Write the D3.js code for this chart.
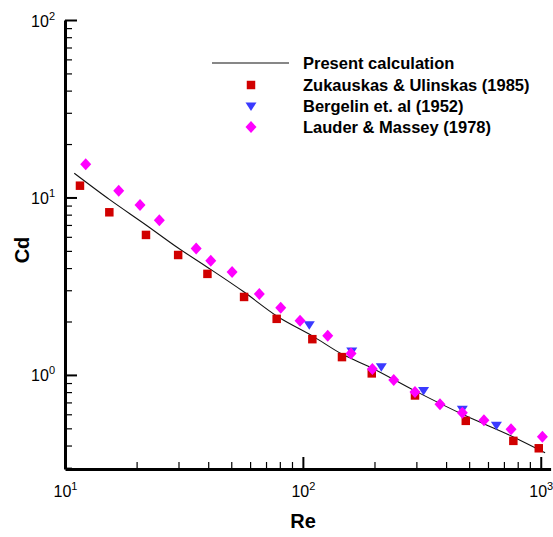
<!DOCTYPE html>
<html>
<head>
<meta charset="utf-8">
<script src="https://cdn.jsdelivr.net/npm/d3@7"></script>
<style>
  body { margin: 0; background: #fff; }
  text { font-family: "Liberation Sans", Arial, sans-serif; }
</style>
</head>
<body>
<div class="chart"></div>
<script>
// present calculation (line)
var calcRe = [10.94, 15.36, 21.9, 29.9, 39.5, 56.6, 77.6, 109.6, 146, 194.8, 296, 484, 767, 1043];
var calcCd = [13.69, 9.75, 7.0, 5.19, 4.06, 2.93, 2.15, 1.66, 1.31, 1.095, 0.813, 0.588, 0.447, 0.364];

// Zukauskas & Ulinskas (1985)
var zukRe = [11.56, 15.36, 21.9, 29.9, 39.7, 56.6, 77.6, 109.6, 146, 194.8, 296, 484, 767, 981];
var zukCd = [11.65, 8.25, 6.15, 4.74, 3.71, 2.75, 2.07, 1.59, 1.26, 1.02, 0.766, 0.551, 0.425, 0.386];

// Bergelin et. al (1952)
var berRe = [106.4, 160.5, 213.7, 321.6, 468, 651];
var berCd = [1.92, 1.365, 1.11, 0.818, 0.641, 0.521];

// Lauder & Massey (1978)
var lauRe = [12.22, 16.82, 20.67, 24.92, 35.6, 41.0, 50.4, 65.6, 80.7, 97.3, 127.2, 159.4, 195.9, 241, 296, 377, 468, 577, 750, 1016];
var lauCd = [15.38, 10.92, 9.07, 7.44, 5.15, 4.40, 3.80, 2.86, 2.39, 2.02, 1.66, 1.32, 1.08, 0.937, 0.802, 0.684, 0.613, 0.556, 0.494, 0.449];

var xMajor = [10, 100, 1000];
var yMajor = [1, 10, 100];
var legendLabels = ["Present calculation", "Zukauskas & Ulinskas (1985)", "Bergelin et. al (1952)", "Lauder & Massey (1978)"];

document.addEventListener("DOMContentLoaded", runD3)
function runD3(){
  var width = 553,
      height = 537;

  const svg = d3.select(".chart").append("svg")
    .attr("width", width)
    .attr("height", height)

  var x = d3.scaleLog().domain([10, 1100]).range([65, 550.6]),
      y = d3.scaleLog().domain([0.295, 100]).range([469, 20])

  var xMinor = [], yMinor = []
  xMajor.forEach(function(m){ for (var k = 2; k < 10; k++) if (m * k < 1100) xMinor.push(m * k) })
  ;[0.1, 1, 10].forEach(function(m){ for (var k = 2; k < 10; k++) if (m * k > 0.295 && m * k < 100) yMinor.push(m * k) })

  // minor ticks
  svg.append("g")
    .attr("transform", "translate(0,469)")
    .call(d3.axisBottom(x).tickValues(xMinor).tickSizeInner(-7).tickSizeOuter(0).tickFormat(""))
    .call(g => g.select(".domain").remove())
    .selectAll("line").attr("stroke-width", 1.2)
  svg.append("g")
    .attr("transform", "translate(65,0)")
    .call(d3.axisLeft(y).tickValues(yMinor).tickSizeInner(-7).tickSizeOuter(0).tickFormat(""))
    .call(g => g.select(".domain").remove())
    .selectAll("line").attr("stroke-width", 1.2)

  // major ticks + labels
  var xAxis = svg.append("g")
    .attr("transform", "translate(0,469)")
    .call(d3.axisBottom(x).tickValues(xMajor).tickSizeInner(-12).tickSizeOuter(0).tickFormat(""))
  var yAxis = svg.append("g")
    .attr("transform", "translate(65,0)")
    .call(d3.axisLeft(y).tickValues(yMajor).tickSizeInner(-12).tickSizeOuter(0).tickFormat(""))

  ;[xAxis, yAxis].forEach(function(g){
    g.select(".domain").attr("stroke-width", 3)
    g.selectAll(".tick line").attr("stroke-width", 2)
  })

  xAxis.selectAll(".tick").append("text")
    .attr("y", 28)
    .attr("text-anchor", "middle")
    .attr("fill", "#000")
    .call(powerLabel)
  yAxis.selectAll(".tick").append("text")
    .attr("x", -10)
    .attr("y", 6)
    .attr("text-anchor", "end")
    .attr("fill", "#000")
    .call(powerLabel)

  function powerLabel(sel){
    sel.attr("font-size", 16)
    sel.append("tspan").text("10")
    sel.append("tspan").attr("dy", -7).attr("font-size", 11).text(d => Math.round(Math.log10(d)))
  }

  // axis titles
  svg.append("text")
    .attr("x", 303).attr("y", 528)
    .attr("text-anchor", "middle")
    .attr("font-size", 20).attr("font-weight", "bold")
    .text("Re")
  svg.append("text")
    .attr("transform", "translate(29,250) rotate(-90)")
    .attr("text-anchor", "middle")
    .attr("font-size", 20).attr("font-weight", "bold")
    .text("Cd")

  // line
  var line = d3.line()
    .x((d, i) => x(calcRe[i]))
    .y(d => y(d))
    .curve(d3.curveMonotoneX)
  svg.append("path")
    .datum(calcCd)
    .attr("d", line)
    .attr("fill", "none")
    .attr("stroke", "#111")
    .attr("stroke-width", 1.1)

  var square = d3.symbol().type(d3.symbolSquare).size(72),
      tri = "M-5.5,-3.5L5.5,-3.5L0,5Z",
      diamond = "M0,-6L5.5,0L0,6L-5.5,0Z"

  svg.append("g").selectAll("path")
    .data(zukCd).enter().append("path")
    .attr("d", square)
    .attr("transform", (d, i) => `translate(${x(zukRe[i])},${y(d)})`)
    .attr("fill", "#d10000")
  svg.append("g").selectAll("path")
    .data(berCd).enter().append("path")
    .attr("d", tri)
    .attr("transform", (d, i) => `translate(${x(berRe[i])},${y(d)})`)
    .attr("fill", "#3a3aff")
  svg.append("g").selectAll("path")
    .data(lauCd).enter().append("path")
    .attr("d", diamond)
    .attr("transform", (d, i) => `translate(${x(lauRe[i])},${y(d)})`)
    .attr("fill", "#ff00ff")

  // legend
  var legend = svg.append("g")
  var rowY = [63, 85, 106, 127]
  legend.append("line")
    .attr("x1", 212).attr("x2", 289)
    .attr("y1", rowY[0]).attr("y2", rowY[0])
    .attr("stroke", "#111").attr("stroke-width", 1.1)
  legend.append("path").attr("d", square)
    .attr("transform", `translate(251,${rowY[1]})`).attr("fill", "#d10000")
  legend.append("path").attr("d", tri)
    .attr("transform", `translate(251,${rowY[2]})`).attr("fill", "#3a3aff")
  legend.append("path").attr("d", diamond)
    .attr("transform", `translate(251,${rowY[3]})`).attr("fill", "#ff00ff")
  legend.selectAll("text")
    .data(legendLabels).enter().append("text")
    .attr("x", 303)
    .attr("y", (d, i) => rowY[i] + 6)
    .attr("font-size", 16.5).attr("font-weight", "bold")
    .text(d => d)
}
</script>
</body>
</html>
